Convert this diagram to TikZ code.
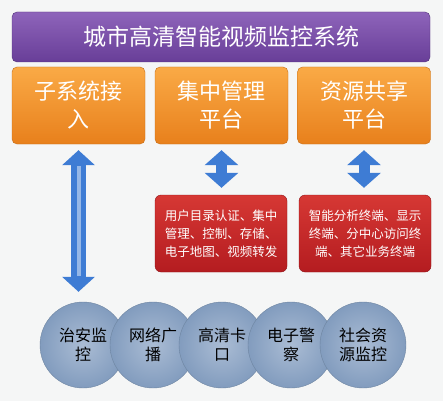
\documentclass[tikz,border=0pt]{standalone}
\usepackage{fontspec}
\setmainfont{Noto Sans CJK SC}
\usetikzlibrary{arrows.meta,positioning}
\definecolor{cam_bg}{RGB}{245,246,246}
\definecolor{cam_purple_top}{RGB}{142,100,186}
\definecolor{cam_purple_bot}{RGB}{104,62,152}
\definecolor{cam_orange_top}{RGB}{250,170,70}
\definecolor{cam_orange_bot}{RGB}{232,128,28}
\definecolor{cam_red_top}{RGB}{214,56,52}
\definecolor{cam_red_bot}{RGB}{180,28,32}
\definecolor{cam_blue}{RGB}{62,124,212}
\definecolor{cam_blue_dark}{RGB}{40,88,170}
\definecolor{cam_disc_in}{RGB}{170,188,212}
\definecolor{cam_disc_out}{RGB}{130,156,190}

\begin{document}
\begin{tikzpicture}[x=1pt, y=-1pt,
    titlebox/.style={rounded corners=5pt, draw=cam_purple_bot!80!black, thin,
      top color=cam_purple_top, bottom color=cam_purple_bot, text=white,
      minimum width=418pt, minimum height=50pt,
      font=\fontsize{23}{28}\selectfont},
    platbox/.style={rounded corners=5pt, draw=cam_orange_bot!85!black, thin,
      top color=cam_orange_top, bottom color=cam_orange_bot, text=white,
      minimum width=133pt, minimum height=77pt, align=center,
      font=\fontsize{22}{28}\selectfont},
    infobox/.style={rounded corners=6pt, draw=cam_red_bot!80!black, thin,
      top color=cam_red_top, bottom color=cam_red_bot, text=white,
      minimum width=132pt, minimum height=77pt, align=center,
      font=\fontsize{12.5}{18}\selectfont},
    disc/.style={circle, draw=cam_disc_out!85!black, thin,
      inner color=cam_disc_in, outer color=cam_disc_out,
      minimum size=86pt, inner sep=0pt, align=center,
      font=\fontsize{16}{19}\selectfont},
    bigarrow/.style={line width=15pt, draw=cam_blue,
      {Triangle[width=32pt,length=15pt]}-{Triangle[width=32pt,length=15pt]}},
    smallarrow/.style={line width=11pt, draw=cam_blue,
      {Triangle[width=33pt,length=15pt]}-{Triangle[width=33pt,length=15pt]}}]
        % background and margins
        \fill[cam_bg] (0,0) rectangle (443,401);
        \useasboundingbox (0,0) rectangle (443,401);
        % title bar
        \node[titlebox] (title) at (221,37) {城市高清智能视频监控系统};
        % platforms
        \node[platbox] (sub) at (78.5,105.5) {子系统接\\入};
        \node[platbox] (mgmt) at (221.5,105.5) {集中管理\\平台};
        \node[platbox] (share) at (364,105.5) {资源共享\\平台};
        % functions
        \node[infobox] (mgmtinfo) at (221,233.5)
          {用户目录认证、集中\\管理、控制、存储、\\电子地图、视频转发};
        \node[infobox] (shareinfo) at (365,233.5)
          {智能分析终端、显示\\终端、分中心访问终\\端、其它业务终端};
        % subsystems
        \node[disc] (d1) at (83,345) {治安监\\控};
        \node[disc] (d2) at (153,345) {网络广\\播};
        \node[disc] (d3) at (222,345) {高清卡\\口};
        \node[disc] (d4) at (291,345) {电子警\\察};
        \node[disc] (d5) at (363,345) {社会资\\源监控};
        % arrows
        \draw[bigarrow, shorten <=6pt, shorten >=10pt]
          (sub.south) -- (sub.south |- d1.north);
        \draw[line width=4pt, cam_blue!55!white, shorten <=22pt, shorten >=26pt]
          (sub.south) -- (sub.south |- d1.north);
        \draw[smallarrow, shorten <=6pt, shorten >=7pt]
          (mgmt.south) -- (mgmt.south |- mgmtinfo.north);
        \draw[smallarrow, shorten <=6pt, shorten >=7pt]
          (share.south) -- (share.south |- shareinfo.north);
\end{tikzpicture}
\end{document}
